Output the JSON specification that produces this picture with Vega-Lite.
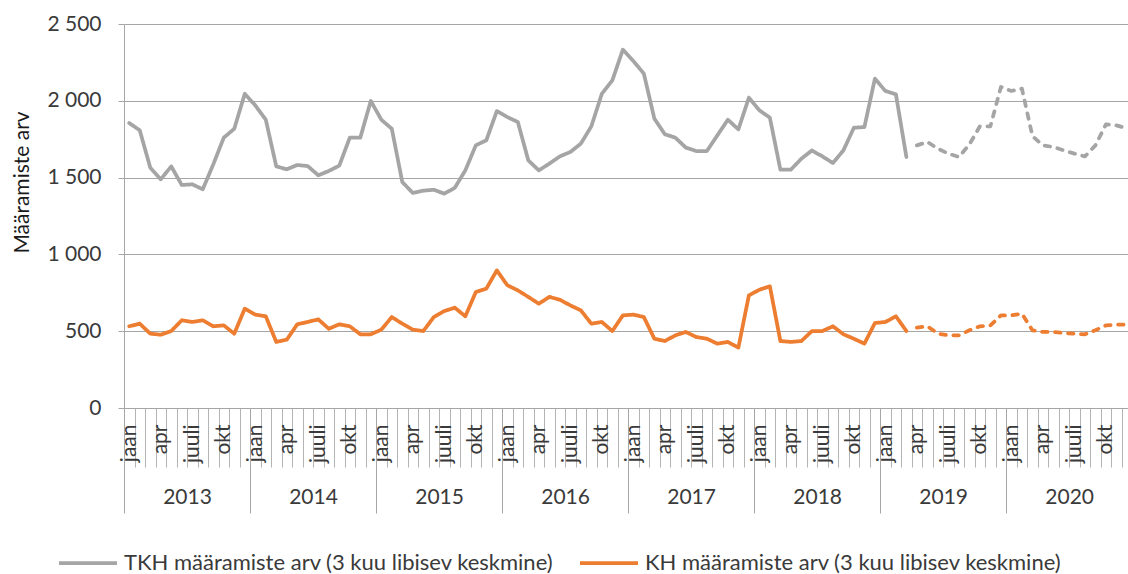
{
  "$schema": "https://vega.github.io/schema/vega-lite/v6.json",
  "autosize": {"type": "none"},
  "padding": {"left": 124, "top": 24, "right": 0, "bottom": 166},
  "width": 1004,
  "height": 384,
  "data": {"values": [
    {"i":0,"TKH":1855,"KH":532,"p":"tegelik"},{"i":1,"TKH":1808,"KH":549,"p":"tegelik"},{"i":2,"TKH":1565,"KH":484,"p":"tegelik"},{"i":3,"TKH":1489,"KH":477,"p":"tegelik"},{"i":4,"TKH":1573,"KH":501,"p":"tegelik"},{"i":5,"TKH":1452,"KH":571,"p":"tegelik"},{"i":6,"TKH":1456,"KH":560,"p":"tegelik"},{"i":7,"TKH":1424,"KH":571,"p":"tegelik"},{"i":8,"TKH":1586,"KH":532,"p":"tegelik"},{"i":9,"TKH":1760,"KH":538,"p":"tegelik"},{"i":10,"TKH":1818,"KH":484,"p":"tegelik"},{"i":11,"TKH":2046,"KH":647,"p":"tegelik"},
    {"i":12,"TKH":1970,"KH":608,"p":"tegelik"},{"i":13,"TKH":1877,"KH":597,"p":"tegelik"},{"i":14,"TKH":1573,"KH":430,"p":"tegelik"},{"i":15,"TKH":1554,"KH":445,"p":"tegelik"},{"i":16,"TKH":1582,"KH":545,"p":"tegelik"},{"i":17,"TKH":1575,"KH":560,"p":"tegelik"},{"i":18,"TKH":1515,"KH":577,"p":"tegelik"},{"i":19,"TKH":1543,"KH":516,"p":"tegelik"},{"i":20,"TKH":1578,"KH":545,"p":"tegelik"},{"i":21,"TKH":1760,"KH":532,"p":"tegelik"},{"i":22,"TKH":1760,"KH":480,"p":"tegelik"},{"i":23,"TKH":1999,"KH":480,"p":"tegelik"},
    {"i":24,"TKH":1877,"KH":510,"p":"tegelik"},{"i":25,"TKH":1818,"KH":592,"p":"tegelik"},{"i":26,"TKH":1471,"KH":549,"p":"tegelik"},{"i":27,"TKH":1400,"KH":510,"p":"tegelik"},{"i":28,"TKH":1415,"KH":501,"p":"tegelik"},{"i":29,"TKH":1421,"KH":592,"p":"tegelik"},{"i":30,"TKH":1395,"KH":631,"p":"tegelik"},{"i":31,"TKH":1434,"KH":653,"p":"tegelik"},{"i":32,"TKH":1547,"KH":597,"p":"tegelik"},{"i":33,"TKH":1710,"KH":755,"p":"tegelik"},{"i":34,"TKH":1743,"KH":777,"p":"tegelik"},{"i":35,"TKH":1933,"KH":896,"p":"tegelik"},
    {"i":36,"TKH":1894,"KH":799,"p":"tegelik"},{"i":37,"TKH":1862,"KH":766,"p":"tegelik"},{"i":38,"TKH":1612,"KH":723,"p":"tegelik"},{"i":39,"TKH":1547,"KH":679,"p":"tegelik"},{"i":40,"TKH":1591,"KH":723,"p":"tegelik"},{"i":41,"TKH":1638,"KH":705,"p":"tegelik"},{"i":42,"TKH":1667,"KH":668,"p":"tegelik"},{"i":43,"TKH":1721,"KH":636,"p":"tegelik"},{"i":44,"TKH":1834,"KH":549,"p":"tegelik"},{"i":45,"TKH":2046,"KH":560,"p":"tegelik"},{"i":46,"TKH":2133,"KH":501,"p":"tegelik"},{"i":47,"TKH":2333,"KH":603,"p":"tegelik"},
    {"i":48,"TKH":2259,"KH":608,"p":"tegelik"},{"i":49,"TKH":2177,"KH":592,"p":"tegelik"},{"i":50,"TKH":1884,"KH":451,"p":"tegelik"},{"i":51,"TKH":1782,"KH":436,"p":"tegelik"},{"i":52,"TKH":1760,"KH":473,"p":"tegelik"},{"i":53,"TKH":1695,"KH":495,"p":"tegelik"},{"i":54,"TKH":1673,"KH":462,"p":"tegelik"},{"i":55,"TKH":1673,"KH":451,"p":"tegelik"},{"i":56,"TKH":1775,"KH":419,"p":"tegelik"},{"i":57,"TKH":1877,"KH":430,"p":"tegelik"},{"i":58,"TKH":1814,"KH":393,"p":"tegelik"},{"i":59,"TKH":2020,"KH":733,"p":"tegelik"},
    {"i":60,"TKH":1938,"KH":770,"p":"tegelik"},{"i":61,"TKH":1890,"KH":792,"p":"tegelik"},{"i":62,"TKH":1552,"KH":436,"p":"tegelik"},{"i":63,"TKH":1552,"KH":430,"p":"tegelik"},{"i":64,"TKH":1623,"KH":436,"p":"tegelik"},{"i":65,"TKH":1677,"KH":501,"p":"tegelik"},{"i":66,"TKH":1638,"KH":501,"p":"tegelik"},{"i":67,"TKH":1595,"KH":532,"p":"tegelik"},{"i":68,"TKH":1677,"KH":480,"p":"tegelik"},{"i":69,"TKH":1825,"KH":451,"p":"tegelik"},{"i":70,"TKH":1829,"KH":419,"p":"tegelik"},{"i":71,"TKH":2144,"KH":553,"p":"tegelik"},
    {"i":72,"TKH":2064,"KH":560,"p":"tegelik"},{"i":73,"TKH":2042,"KH":597,"p":"tegelik"},{"i":74,"TKH":1634,"KH":501,"p":"tegelik"},{"i":75,"TKH":1710,"KH":523,"p":"prognoos"},{"i":76,"TKH":1732,"KH":532,"p":"prognoos"},{"i":77,"TKH":1688,"KH":484,"p":"prognoos"},{"i":78,"TKH":1656,"KH":473,"p":"prognoos"},{"i":79,"TKH":1634,"KH":473,"p":"prognoos"},{"i":80,"TKH":1716,"KH":506,"p":"prognoos"},{"i":81,"TKH":1834,"KH":532,"p":"prognoos"},{"i":82,"TKH":1834,"KH":538,"p":"prognoos"},{"i":83,"TKH":2090,"KH":603,"p":"prognoos"},
    {"i":84,"TKH":2064,"KH":603,"p":"prognoos"},{"i":85,"TKH":2079,"KH":614,"p":"prognoos"},{"i":86,"TKH":1770,"KH":506,"p":"prognoos"},{"i":87,"TKH":1710,"KH":495,"p":"prognoos"},{"i":88,"TKH":1699,"KH":495,"p":"prognoos"},{"i":89,"TKH":1677,"KH":488,"p":"prognoos"},{"i":90,"TKH":1656,"KH":484,"p":"prognoos"},{"i":91,"TKH":1638,"KH":480,"p":"prognoos"},{"i":92,"TKH":1710,"KH":506,"p":"prognoos"},{"i":93,"TKH":1847,"KH":538,"p":"prognoos"},{"i":94,"TKH":1840,"KH":543,"p":"prognoos"},{"i":95,"TKH":1820,"KH":543,"p":"prognoos"}
  ]},
  "resolve": {"axis": {"x": "independent"}},
  "layer": [
    {
      "transform": [{"fold": ["TKH", "KH"], "as": ["s", "v"]}],
      "mark": {"type": "line", "strokeWidth": 3.75, "strokeCap": "round", "strokeJoin": "round"},
      "encoding": {
        "x": {"field": "i", "type": "quantitative",
          "scale": {"domain": [-0.5, 95.1], "nice": false, "zero": false},
          "axis": {"orient": "bottom", "title": null, "labels": false, "grid": false, "domain": true,
            "tickSize": 59, "tickColor": "#b4b4b4", "domainColor": "#a6a6a6",
            "values": [-0.5,0.5,1.5,2.5,3.5,4.5,5.5,6.5,7.5,8.5,9.5,10.5,11.5,12.5,13.5,14.5,15.5,16.5,17.5,18.5,19.5,20.5,21.5,22.5,23.5,24.5,25.5,26.5,27.5,28.5,29.5,30.5,31.5,32.5,33.5,34.5,35.5,36.5,37.5,38.5,39.5,40.5,41.5,42.5,43.5,44.5,45.5,46.5,47.5,48.5,49.5,50.5,51.5,52.5,53.5,54.5,55.5,56.5,57.5,58.5,59.5,60.5,61.5,62.5,63.5,64.5,65.5,66.5,67.5,68.5,69.5,70.5,71.5,72.5,73.5,74.5,75.5,76.5,77.5,78.5,79.5,80.5,81.5,82.5,83.5,84.5,85.5,86.5,87.5,88.5,89.5,90.5,91.5,92.5,93.5,94.5]}},
        "y": {"field": "v", "type": "quantitative",
          "scale": {"domain": [0, 2500], "nice": false},
          "axis": {"values": [0, 500, 1000, 1500, 2000, 2500], "grid": true, "gridColor": "#a6a6a6",
            "domain": true, "domainColor": "#a6a6a6", "tickColor": "#a6a6a6", "tickSize": 6,
            "labelPadding": 17, "labelExpr": "replace(format(datum.value, ','), ',', ' ')",
            "title": "Määramiste arv", "titleX": -102, "titleY": 158, "titleAngle": 270,
            "titleAlign": "center", "titleBaseline": "middle"}},
        "color": {"field": "s", "type": "nominal",
          "scale": {"domain": ["TKH", "KH"], "range": ["#a5a5a5", "#ed7d31"]},
          "legend": {"orient": "none", "legendX": -67, "legendY": 508, "direction": "horizontal",
            "title": null, "symbolType": "stroke", "symbolSize": 3364, "symbolStrokeWidth": 3.75,
            "columnPadding": 18, "labelOffset": 5, "labelLimit": 0,
            "labelExpr": "datum.label + ' määramiste arv (3 kuu libisev keskmine)'"}},
        "strokeDash": {"field": "p", "type": "nominal",
          "scale": {"domain": ["tegelik", "prognoos"], "range": [[1, 0], [5.5, 7.5]]},
          "legend": null}
      }
    },
    {
      "mark": {"type": "point", "opacity": 0},
      "encoding": {
        "x": {"field": "i", "type": "quantitative",
          "scale": {"domain": [-0.5, 95.1], "nice": false, "zero": false},
          "axis": {"orient": "bottom", "title": null, "ticks": false, "domain": false, "grid": false,
            "labelAngle": 270, "labelPadding": 16, "labelOverlap": false, "labelFlush": false, "labelBound": false,
            "values": [0,3,6,9,12,15,18,21,24,27,30,33,36,39,42,45,48,51,54,57,60,63,66,69,72,75,78,81,84,87,90,93],
            "labelExpr": "datum.value % 12 == 0 ? 'jaan' : datum.value % 12 == 3 ? 'apr' : datum.value % 12 == 6 ? 'juuli' : 'okt'"}}
      }
    },
    {
      "mark": {"type": "point", "opacity": 0},
      "encoding": {
        "x": {"field": "i", "type": "quantitative",
          "scale": {"domain": [-0.5, 95.1], "nice": false, "zero": false},
          "axis": {"orient": "bottom", "title": null, "labels": false, "domain": false, "grid": false,
            "tickSize": 105, "tickColor": "#a6a6a6",
            "values": [-0.5, 11.5, 23.5, 35.5, 47.5, 59.5, 71.5, 83.5]}}
      }
    },
    {
      "mark": {"type": "point", "opacity": 0},
      "encoding": {
        "x": {"field": "i", "type": "quantitative",
          "scale": {"domain": [-0.5, 95.1], "nice": false, "zero": false},
          "axis": {"orient": "bottom", "title": null, "ticks": false, "domain": false, "grid": false,
            "labelPadding": 89, "labelBaseline": "middle", "labelOverlap": false, "labelFlush": false, "labelBound": false,
            "values": [5.5, 17.5, 29.5, 41.5, 53.5, 65.5, 77.5, 89.5],
            "labelExpr": "'' + (2013 + floor(datum.value / 12))"}}
      }
    }
  ],
  "config": {
    "font": "Lato",
    "view": {"stroke": null},
    "axis": {"labelFont": "Lato", "labelFontSize": 21, "labelColor": "#3a3a3a",
      "titleFont": "Lato", "titleFontSize": 21, "titleFontWeight": "normal", "titleColor": "#1a1a1a"},
    "legend": {"labelFont": "Lato", "labelFontSize": 22, "labelColor": "#3a3a3a"}
  }
}
